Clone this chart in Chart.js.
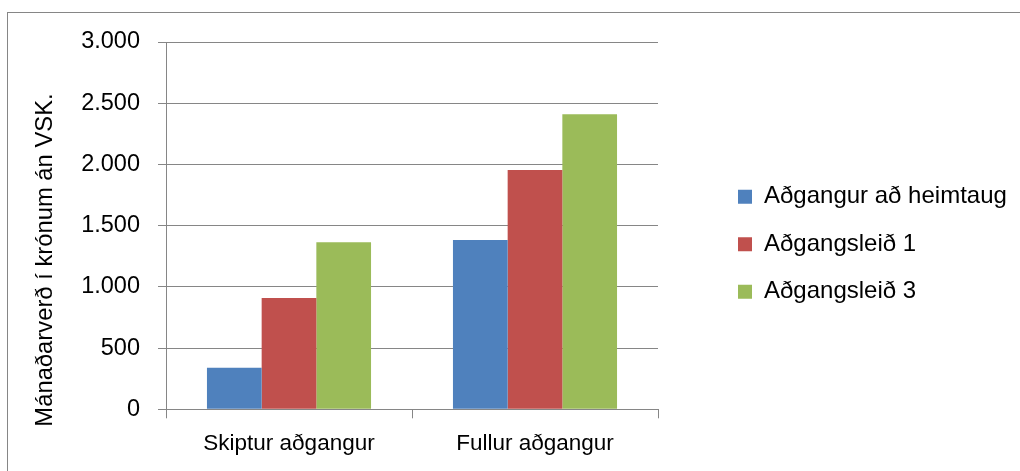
<!DOCTYPE html>
<html>
<head>
<meta charset="utf-8">
<script src="https://cdn.jsdelivr.net/npm/chart.js@4/dist/chart.umd.min.js"></script>
<style>
html,body{margin:0;padding:0;background:#fff;}
canvas{display:block;}
</style>
</head>
<body>
<canvas id="c" width="1020" height="471"></canvas>
<script>
const categories = ['Skiptur aðgangur', 'Fullur aðgangur'];
const seriesNames = ['Aðgangur að heimtaug', 'Aðgangsleið 1', 'Aðgangsleið 3'];
const heimtaug = [340, 1383];
const leid1 = [909, 1955];
const leid3 = [1364, 2410];
const yTickLabels = ['0', '500', '1.000', '1.500', '2.000', '2.500', '3.000'];
const yTitle = 'Mánaðarverð í krónum án VSK.';

const colors = ['#4F81BD', '#C0504D', '#9BBB59'];
const FONT = "'Liberation Sans', Arial, sans-serif";
const GRID = '#868686';

const framePlugin = {
  id: 'frame',
  beforeDraw(chart) {
    const c = chart.ctx;
    c.save();
    c.fillStyle = '#fff';
    c.fillRect(0, 0, chart.width, chart.height);
    c.strokeStyle = GRID;
    c.lineWidth = 1;
    c.strokeRect(7.5, 12.5, chart.width * 2, chart.height * 2);
    c.restore();
  }
};

const yTitlePlugin = {
  id: 'ytitle',
  afterDraw(chart) {
    const c = chart.ctx;
    c.save();
    c.translate(45.5, 260);
    c.rotate(-Math.PI / 2);
    c.font = '23.8px ' + FONT;
    c.fillStyle = '#000';
    c.textAlign = 'center';
    c.textBaseline = 'middle';
    c.fillText(yTitle, 0, 0);
    c.restore();
  }
};

// place the legend block like the reference (box column at x=738, rows centred near y=245)
const legendShift = {
  id: 'legendShift',
  afterLayout(chart) {
    const lg = chart.legend;
    if (!lg) return;
    const dx = 738 - (lg.left + lg.options.labels.padding);
    lg.left += dx;
    lg.right = chart.width;
    lg.width = lg.right - lg.left;
    const dy = -12.3;
    lg.top += dy;
    lg.bottom += dy;
  }
};

const seriesValues = [heimtaug, leid1, leid3];

new Chart(document.getElementById('c'), {
  type: 'bar',
  data: {
    labels: categories,
    datasets: seriesNames.map((name, i) => ({
      label: name,
      data: seriesValues[i],
      backgroundColor: colors[i],
      borderWidth: 0,
      categoryPercentage: 0.667,
      barPercentage: 1.0
    }))
  },
  options: {
    responsive: false,
    animation: false,
    devicePixelRatio: 1,
    layout: { padding: { top: 42, left: 0, right: 82, bottom: 0 } },
    plugins: {
      tooltip: { enabled: false },
      legend: {
        position: 'right',
        align: 'center',
        maxWidth: 280,
        labels: {
          boxWidth: 14,
          boxHeight: 14,
          padding: 23.5,
          color: '#000',
          font: { family: FONT, size: 24 }
        }
      }
    },
    scales: {
      x: {
        offset: true,
        grid: { display: true, drawOnChartArea: false, drawTicks: true, tickLength: 9, color: GRID, offset: true },
        border: { display: true, color: GRID, width: 1 },
        ticks: { color: '#000', font: { family: FONT, size: 22.5 }, padding: 11.5, maxRotation: 0 },
        afterFit(s) { s.height = 61.7; }
      },
      y: {
        min: 0,
        max: 3000,
        ticks: {
          stepSize: 500,
          color: '#000',
          font: { family: FONT, size: 23.5 },
          padding: 18,
          callback: (v, i) => yTickLabels[i]
        },
        grid: { color: GRID, tickLength: 8, drawTicks: true },
        border: { display: true, color: GRID, width: 1 },
        afterFit(s) { s.width = 166; }
      }
    }
  },
  plugins: [framePlugin, yTitlePlugin, legendShift]
});
</script>
</body>
</html>
